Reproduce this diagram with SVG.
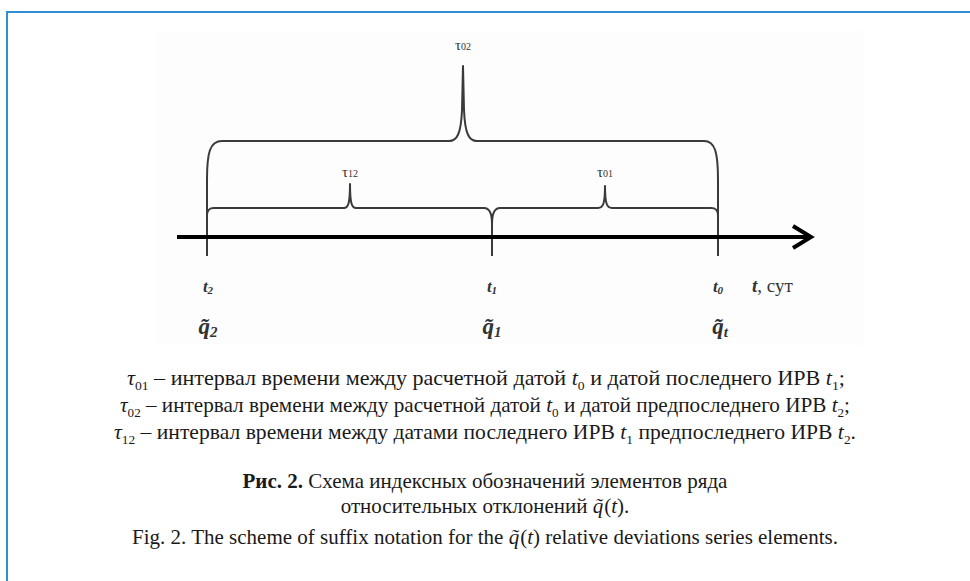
<svg xmlns="http://www.w3.org/2000/svg" width="970" height="581" viewBox="0 0 970 581">
<style>
.br{fill:none;stroke:#3a3a3a;stroke-width:2;stroke-linejoin:round}
.lbl{font-family:"Liberation Serif",serif;fill:#333}
.tx{font-family:"Liberation Serif",serif;font-size:21px;fill:#1a1a1a}
.it{font-style:italic}
</style>
<rect width="970" height="581" fill="#ffffff"/>
<line x1="6" y1="12" x2="970" y2="12" stroke="#2f8fd2" stroke-width="2"/>
<line x1="7" y1="12" x2="7" y2="581" stroke="#2f8fd2" stroke-width="2"/>
<rect x="155" y="31" width="708" height="314" fill="#fdfdfd"/>
<g id="connectors">
<path class="br" d="M207,256 L207,180 C207,152 210,141 222,141 L449,141 C457,141 461,134 462,110 L463,66 L464,110 C465,134 469,141 477,141 L704,141 C715,141 718,152 718,180 L718,256"/>
<path class="br" d="M207,216 C207,210 209,208 214,208 L344,208 C348,208 350,204 350,184 C350,204 352,208 356,208 L484,208 C489,208 492,212 492,224 L492,256"/>
<path class="br" d="M492,224 C492,212 495,208 500,208 L598,208 C603,208 605,204 605,186 C605,204 607,208 612,208 L711,208 C716,208 718,210 718,216"/>
<line x1="177" y1="237" x2="809" y2="237" stroke="#000" stroke-width="4"/>
<polyline points="793,226 811,237 793,248" fill="none" stroke="#000" stroke-width="4" stroke-linejoin="miter"/>
</g>
<g id="tau02"><text class="lbl" x="463" y="50" font-size="15" text-anchor="middle">τ<tspan font-size="10">02</tspan></text></g>
<g id="tau12"><text class="lbl" x="350" y="177" font-size="15" text-anchor="middle">τ<tspan font-size="10">12</tspan></text></g>
<g id="tau01"><text class="lbl" x="605" y="177" font-size="15" text-anchor="middle">τ<tspan font-size="10">01</tspan></text></g>
<g id="t2"><text class="lbl it" x="208" y="292" font-size="17" font-weight="bold" text-anchor="middle">t<tspan font-size="11" dy="2">2</tspan></text></g>
<g id="t1"><text class="lbl it" x="492" y="292" font-size="17" font-weight="bold" text-anchor="middle">t<tspan font-size="11" dy="2">1</tspan></text></g>
<g id="t0"><text class="lbl it" x="718" y="292" font-size="17" font-weight="bold" text-anchor="middle">t<tspan font-size="11" dy="2">0</tspan></text></g>
<g id="taxis"><text class="lbl" x="752" y="292" font-size="19"><tspan class="it" font-weight="bold">t</tspan>, сут</text></g>
<g id="q2"><text class="lbl it" x="208" y="334" font-size="23" font-weight="bold" text-anchor="middle">q̃<tspan font-size="15" dy="3">2</tspan></text></g>
<g id="q1"><text class="lbl it" x="492" y="334" font-size="23" font-weight="bold" text-anchor="middle">q̃<tspan font-size="15" dy="3">1</tspan></text></g>
<g id="qt"><text class="lbl it" x="720" y="334" font-size="23" font-weight="bold" text-anchor="middle">q̃<tspan font-size="15" dy="3">t</tspan></text></g>
<g id="legend">
<text class="tx" x="127" y="385" textLength="718" lengthAdjust="spacingAndGlyphs"><tspan class="it">τ</tspan><tspan font-size="13" dy="5">01</tspan><tspan dy="-5"> – интервал времени между расчетной датой </tspan><tspan class="it">t</tspan><tspan font-size="13" dy="5">0</tspan><tspan dy="-5"> и датой последнего ИРВ </tspan><tspan class="it">t</tspan><tspan font-size="13" dy="5">1</tspan><tspan dy="-5">;</tspan></text>
<text class="tx" x="120" y="412" textLength="730" lengthAdjust="spacingAndGlyphs"><tspan class="it">τ</tspan><tspan font-size="13" dy="5">02</tspan><tspan dy="-5"> – интервал времени между расчетной датой </tspan><tspan class="it">t</tspan><tspan font-size="13" dy="5">0</tspan><tspan dy="-5"> и датой предпоследнего ИРВ </tspan><tspan class="it">t</tspan><tspan font-size="13" dy="5">2</tspan><tspan dy="-5">;</tspan></text>
<text class="tx" x="114" y="439" textLength="742" lengthAdjust="spacingAndGlyphs"><tspan class="it">τ</tspan><tspan font-size="13" dy="5">12</tspan><tspan dy="-5"> – интервал времени между датами последнего ИРВ </tspan><tspan class="it">t</tspan><tspan font-size="13" dy="5">1</tspan><tspan dy="-5"> предпоследнего ИРВ </tspan><tspan class="it">t</tspan><tspan font-size="13" dy="5">2</tspan><tspan dy="-5">.</tspan></text>
</g>
<g id="caption">
<text class="tx" x="485" y="488" font-size="21" text-anchor="middle"><tspan font-weight="bold">Рис. 2.</tspan> Схема индексных обозначений элементов ряда</text>
<text class="tx" x="485" y="513" font-size="21" text-anchor="middle">относительных отклонений <tspan class="it">q̃</tspan><tspan dx="1">(</tspan><tspan class="it">t</tspan>).</text>
<text class="tx" x="485" y="544" font-size="20.5" text-anchor="middle">Fig. 2. The scheme of suffix notation for the <tspan class="it">q̃</tspan><tspan dx="1">(</tspan><tspan class="it">t</tspan>) relative deviations series elements.</text>
</g>
</svg>
